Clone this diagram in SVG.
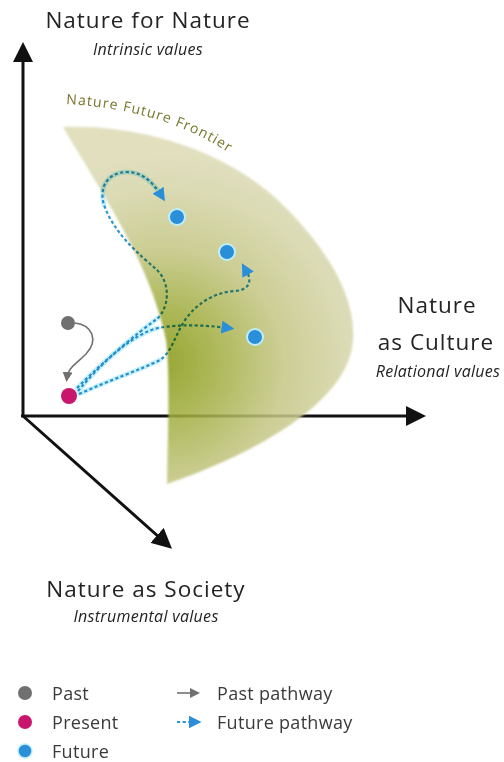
<svg xmlns="http://www.w3.org/2000/svg" width="504" height="762" viewBox="0 0 504 762">
<style>
.t{font-family:"Open Sans","Liberation Sans",sans-serif;fill:#232323}
.h{font-size:22.5px;letter-spacing:1px}
.s{font-size:16px;font-style:italic;letter-spacing:0.3px}
.lg{font-size:18px;fill:#3a3a3a;letter-spacing:0.3px}
.ax{stroke:#111;stroke-width:3;fill:none}
.fp{fill:none;stroke:#2f97cf;stroke-width:2.2;stroke-dasharray:3.2 2.4}
.fh{fill:none;stroke:#c8f1fb;stroke-width:5;stroke-linecap:round}
.pp{fill:none;stroke:#707070;stroke-width:1.6}
.mk{fill:none;stroke:none}
.fut{fill:#2b8ed8;stroke:#bdeefa;stroke-width:2}
</style>
<defs>
<radialGradient id="gr" gradientUnits="userSpaceOnUse" cx="168" cy="370" r="215" fx="160" fy="360">
<stop offset="0" stop-color="#849812"/>
<stop offset="0.25" stop-color="#a1ad3e"/>
<stop offset="0.55" stop-color="#c4c684"/>
<stop offset="0.85" stop-color="#d6d5aa"/>
<stop offset="1" stop-color="#dcdab4"/>
</radialGradient>
<filter id="soft" x="-5%" y="-5%" width="110%" height="110%"><feGaussianBlur stdDeviation="1"/></filter>
<marker id="ah" viewBox="0 0 10 10" refX="8" refY="5" markerWidth="20" markerHeight="20" markerUnits="userSpaceOnUse" orient="auto"><path d="M0,0 L10,5 L0,10 Z" fill="#111"/></marker>
<marker id="fa" viewBox="0 0 10 10" refX="5" refY="5" markerWidth="13" markerHeight="13" markerUnits="userSpaceOnUse" orient="auto"><path d="M0,0 L10,5 L0,10 Z" fill="#2b8ed8"/></marker>
<marker id="pa" viewBox="0 0 10 10" refX="5" refY="5" markerWidth="10" markerHeight="10" markerUnits="userSpaceOnUse" orient="auto"><path d="M0,0 L10,5 L0,10 Z" fill="#707070"/></marker>
<path id="fpath" d="M 66,104 Q 180,110 252,170"/>
</defs>

<g id="axes">
<line class="ax" x1="23" y1="417" x2="23" y2="46" marker-end="url(#ah)"/>
<line class="ax" x1="21" y1="416" x2="422" y2="416" marker-end="url(#ah)"/>
<line class="ax" x1="23" y1="416" x2="169" y2="546" marker-end="url(#ah)"/>
</g>

<g id="frontier">
<path d="M 63,127 C 140,124 232,150 290,212 C 332,256 356,300 353,340 C 350,400 260,452 167,484 C 168,430 170,370 166,340 C 150,262 100,190 63,127 Z" fill="url(#gr)" opacity="0.86" filter="url(#soft)"/>
<text class="t" font-size="14" style="fill:#76752a" letter-spacing="1.1"><textPath href="#fpath">Nature Future Frontier</textPath></text>
</g>

<g id="labels">
<text class="t h" x="148" y="28" text-anchor="middle">Nature for Nature</text>
<text class="t s" x="148" y="55" text-anchor="middle">Intrinsic values</text>
<text class="t h" x="437" y="313" text-anchor="middle">Nature</text>
<text class="t h" x="436" y="350" text-anchor="middle">as Culture</text>
<text class="t s" x="438" y="377" text-anchor="middle">Relational values</text>
<text class="t h" x="146" y="597" text-anchor="middle">Nature as Society</text>
<text class="t s" x="146" y="622" text-anchor="middle">Instrumental values</text>
</g>

<g id="connectors">
<path class="pp" d="M 75,323 C 92,325 99,340 86,354 C 76,364 68,368 67,377" marker-end="url(#pa)"/>
<g style="mix-blend-mode:multiply">
<path class="fh" d="M 77,388 C 105,360 135,335 158,318"/>
<path class="fh" d="M 78,391 C 100,365 130,335 158,328"/>
<path class="fh" d="M 79,394 C 110,380 140,370 160,360"/>
<path class="fh" d="M 104,205 C 98,185 110,172 127,172 C 143,172 153,183 161,195"/>
</g>
<g style="mix-blend-mode:multiply">
<path class="fp" d="M 77,388 C 105,360 135,335 158,318 C 170,305 170,283 157,270 C 140,255 115,235 104,205 C 98,185 110,172 127,172 C 143,172 153,183 161,195"/>
<path class="fp" d="M 78,391 C 100,365 130,335 158,328 C 180,324 205,325 228,328"/>
<path class="fp" d="M 79,394 C 110,380 140,370 160,360 C 172,352 175,335 185,320 C 197,303 215,292 235,291 C 250,290 253,280 245,269"/>
</g>
<path class="mk" d="M 143,172 C 153,183 161,195 161,195 L 161.5,195.8" marker-end="url(#fa)"/>
<path class="mk" d="M 205,325 L 228,328" marker-end="url(#fa)"/>
<path class="mk" d="M 251,280 L 245,269" marker-end="url(#fa)"/>
</g>

<g id="past"><circle cx="68" cy="323" r="7" fill="#707070"/></g>
<g id="present"><circle cx="69" cy="396" r="8" fill="#c8156e"/></g>
<g id="future1"><circle class="fut" cx="177" cy="217" r="8"/></g>
<g id="future2"><circle class="fut" cx="227" cy="252" r="8"/></g>
<g id="future3"><circle class="fut" cx="255" cy="337" r="8"/></g>

<g id="legend">
<circle cx="25" cy="693" r="7" fill="#707070"/>
<circle cx="25" cy="722" r="7" fill="#c8156e"/>
<circle cx="25" cy="751" r="7" fill="#2b8ed8" stroke="#bdeefa" stroke-width="1.5"/>
<text class="t lg" x="52" y="700">Past</text>
<text class="t lg" x="52" y="729">Present</text>
<text class="t lg" x="52" y="758">Future</text>
<line class="pp" x1="177" y1="693" x2="195" y2="693" marker-end="url(#pa)"/>
<line class="fp" x1="177" y1="722" x2="195" y2="722" marker-end="url(#fa)"/>
<text class="t lg" x="217" y="700">Past pathway</text>
<text class="t lg" x="217" y="729">Future pathway</text>
</g>
</svg>
